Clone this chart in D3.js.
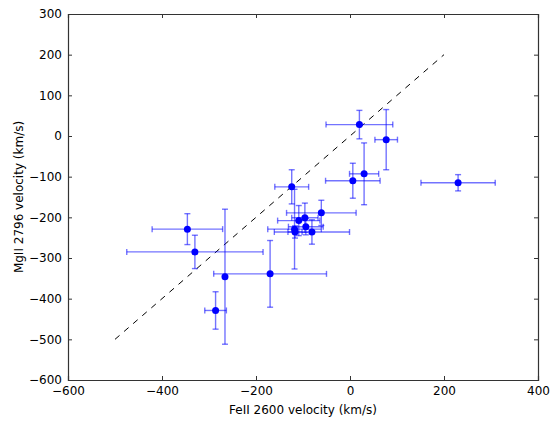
<!DOCTYPE html>
<html>
<head>
<meta charset="utf-8">
<script src="https://cdn.jsdelivr.net/npm/d3@7"></script>
<style>
body{margin:0;background:#fff;}
text{font-family:"DejaVu Sans",sans-serif;}
</style>
</head>
<body>
<svg id="chart" width="555" height="421"></svg>
<script>
// FeII 2600 velocity (x), MgII 2796 velocity (y), with errors
const feVel   = [-346, -330, -266, -170, -286, -124, -61, -96, -109, -94, -118, -117, -81, 20, 77, 30, 6, 230];
const feErr   = [  75,  145,    0,  120,   23,   36,  74,  28,   45,  37,   57,   15,  80, 71, 24, 31, 58, 79];
const mgVel   = [-229, -285, -346, -339, -429, -125, -189, -201, -208, -223, -229, -236, -236, 28, -9, -93, -110, -115];
const mgErr   = [  38,   41,  166,   82,   46,   42,   31,   36,   37,   20,   98,   15,   30, 35, 74, 76, 43, 20];
const xTicks  = [-600, -400, -200, 0, 200, 400];
const yTicks  = [-600, -500, -400, -300, -200, -100, 0, 100, 200, 300];
const oneToOne = [[-500, -500], [200, 200]];

const svg = d3.select("#chart");
const m = {left: 68, top: 14, right: 17, bottom: 41};
const W = 555 - m.left - m.right, H = 421 - m.top - m.bottom;
const x = d3.scaleLinear().domain([-600, 400]).range([0, W]);
const y = d3.scaleLinear().domain([-600, 300]).range([H, 0]);
const g = svg.append("g").attr("transform", `translate(${m.left},${m.top})`);

// dashed one-to-one line
g.append("path")
  .attr("d", d3.line().x(d => x(d[0])).y(d => y(d[1]))(oneToOne))
  .attr("fill", "none").attr("stroke", "#000").attr("stroke-width", 1)
  .attr("stroke-dasharray", "6,6");

const data = feVel.map((v, i) => ({x: v, xe: feErr[i], y: mgVel[i], ye: mgErr[i]}));
const eb = g.append("g").attr("stroke", "rgba(0,0,255,0.55)").attr("stroke-width", 1.4).attr("fill", "none");
const cap = 3;
data.forEach(d => {
  if (d.xe > 0) {
    eb.append("line").attr("x1", x(d.x - d.xe)).attr("x2", x(d.x + d.xe)).attr("y1", y(d.y)).attr("y2", y(d.y));
    [d.x - d.xe, d.x + d.xe].forEach(v => eb.append("line").attr("x1", x(v)).attr("x2", x(v)).attr("y1", y(d.y) - cap).attr("y2", y(d.y) + cap));
  }
  if (d.ye > 0) {
    eb.append("line").attr("x1", x(d.x)).attr("x2", x(d.x)).attr("y1", y(d.y - d.ye)).attr("y2", y(d.y + d.ye));
    [d.y - d.ye, d.y + d.ye].forEach(v => eb.append("line").attr("x1", x(d.x) - cap).attr("x2", x(d.x) + cap).attr("y1", y(v)).attr("y2", y(v)));
  }
});
g.append("g").selectAll("circle").data(data).join("circle")
  .attr("cx", d => x(d.x)).attr("cy", d => y(d.y)).attr("r", 3.5).attr("fill", "#0000ff");

// axes with inward ticks
const fmt = d => d < 0 ? "\u2212" + Math.abs(d) : String(d);
const xa = g.append("g").attr("transform", `translate(0,${H})`)
  .call(d3.axisBottom(x).tickValues(xTicks).tickSize(-4).tickPadding(6).tickFormat(fmt));
const xt = g.append("g").call(d3.axisTop(x).tickValues(xTicks).tickSize(-4).tickFormat(""));
const ya = g.append("g").call(d3.axisLeft(y).tickValues(yTicks).tickSize(-4).tickPadding(6).tickFormat(fmt));
const yr = g.append("g").attr("transform", `translate(${W},0)`)
  .call(d3.axisRight(y).tickValues(yTicks).tickSize(-4).tickFormat(""));
[xa, xt, ya, yr].forEach(a => {
  a.select(".domain").attr("stroke", "#333").attr("stroke-width", 1.2);
  a.selectAll(".tick line").attr("stroke", "#333");
  a.selectAll("text").attr("font-size", 12).attr("fill", "#000").attr("font-family", "DejaVu Sans");
});

svg.append("text").attr("x", m.left + W / 2).attr("y", 414).attr("text-anchor", "middle")
  .attr("font-size", 12).text("FeII 2600 velocity (km/s)");
svg.append("text").attr("transform", `translate(23,${m.top + H / 2}) rotate(-90)`).attr("text-anchor", "middle")
  .attr("font-size", 12).text("MgII 2796 velocity (km/s)");
</script>
</body>
</html>
